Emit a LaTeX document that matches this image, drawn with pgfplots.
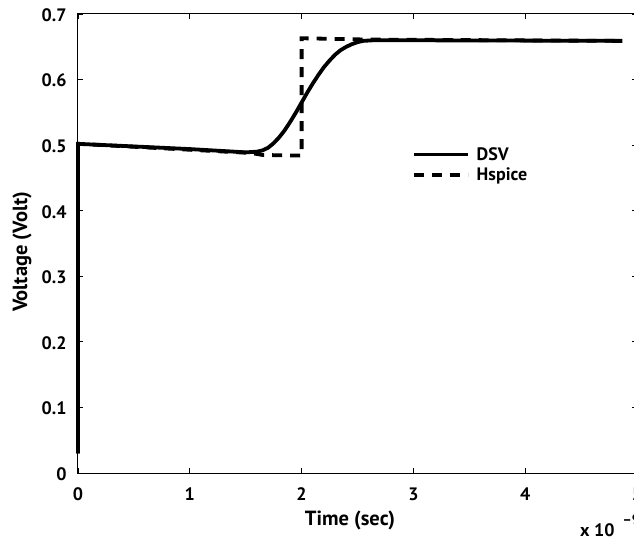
\documentclass[border=0pt]{standalone}
\usepackage{pgfplots}
\pgfplotsset{compat=1.18}
\usepackage{fontspec}
\setmainfont{PT Sans}
\newcommand{\lbl}{\fontsize{18bp}{21bp}\selectfont\bfseries}
\newcommand{\axlbl}{\fontsize{20.5bp}{23bp}\selectfont\bfseries}
\begin{document}
\begin{tikzpicture}
\useasboundingbox (-78bp,-67bp) rectangle (556bp,473bp);
\begin{axis}[
  at={(0,0)}, anchor=south west,
  scale only axis, width=559bp, height=459bp,
  xmin=0, xmax=5, ymin=0, ymax=0.7,
  clip=false,
  xtick={0,1,2,3,4,5}, xticklabels={0,1,2,3,4,5},
  ytick={0,0.1,0.2,0.3,0.4,0.5,0.6,0.7},
  yticklabels={0,0.1,0.2,0.3,0.4,0.5,0.6,0.7},
  tick align=inside, major tick length=5bp,
  tick style={line width=0.8bp, black},
  axis line style={line width=1bp, black},
  every tick label/.append style={font=\lbl},
  xticklabel style={anchor=base, yshift=-27bp},
  yticklabel style={anchor=east, xshift=-8bp, yshift=-1bp},
  xlabel={Time (sec)}, ylabel={Voltage (Volt)},
  xlabel style={font=\axlbl, at={(axis description cs:0.4866,-0.1133)}, anchor=base},
  ylabel style={font=\axlbl, at={(axis description cs:-0.0912,0.4815)}, anchor=base},
  legend entries={DSV,Hspice},
  legend cell align=left,
  legend style={at={(axis description cs:0.597,0.672)}, anchor=west, draw=none, fill=none,
    inner sep=0pt, font=\lbl, row sep=2bp, column sep=5bp},
  legend image code/.code={\draw[#1] (0bp,0bp) -- (54bp,0bp);},
]
\addplot[black, line width=3.8bp, line join=round] coordinates {
(0,0.03) (0,0.502) (0.5,0.498) (1.0,0.494) (1.3,0.491) (1.5,0.489) (1.6,0.490)
(1.65,0.492) (1.70,0.496) (1.75,0.503) (1.80,0.512) (1.85,0.523) (1.90,0.536)
(1.95,0.550) (2.00,0.565) (2.05,0.580) (2.10,0.594) (2.15,0.607) (2.20,0.619)
(2.25,0.629) (2.30,0.638) (2.35,0.645) (2.40,0.650) (2.45,0.654) (2.50,0.657)
(2.55,0.659) (2.65,0.660) (2.80,0.660) (4.87,0.659)
};
\addplot[black, line width=3.8bp, dash pattern=on 10bp off 8bp] coordinates {
(0,0.03) (0,0.502) (1.55,0.488) (1.65,0.485) (2.0,0.484) (2.0,0.663)
(2.6,0.661) (4.87,0.659)
};
\node[anchor=base west, inner sep=0pt, font=\lbl] at (axis description cs:0.898,-0.1394)
  {x 10\hspace{8bp}\raisebox{12bp}{\fontsize{14bp}{14bp}\selectfont –9}};
\end{axis}
\end{tikzpicture}
\end{document}
